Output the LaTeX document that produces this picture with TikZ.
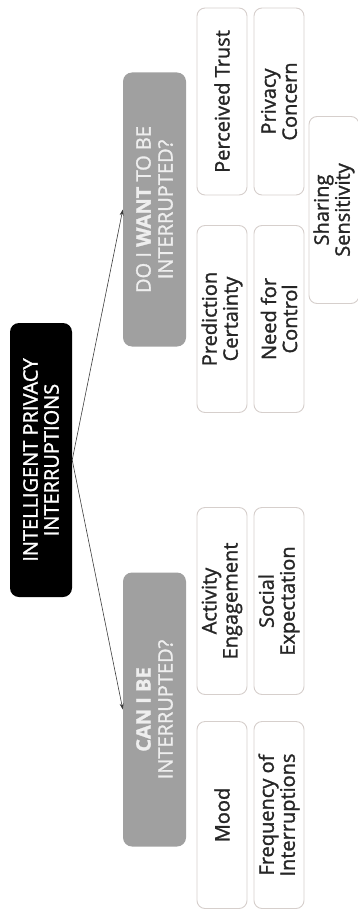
\documentclass[tikz,border=0pt]{standalone}
\usepackage{fontspec}
\setmainfont{Open Sans}[FakeBold=1.4]
\usetikzlibrary{arrows.meta}

\definecolor{qgray}{RGB}{160,160,160}
\definecolor{qtext}{RGB}{238,238,238}
\definecolor{fborder}{RGB}{214,207,204}
\definecolor{linkgray}{RGB}{60,60,60}

\begin{document}
\begin{tikzpicture}[
    x=1pt, y=-1pt,
    root/.style={rectangle, rotate=90, fill=black, text=white, rounded corners=9pt, minimum width=274pt, minimum height=62pt, align=center, font=\fontsize{20}{21}\selectfont},
    question/.style={rectangle, rotate=90, fill=qgray, text=qtext, rounded corners=9pt, minimum width=274pt, minimum height=63pt, align=center, font=\fontsize{20}{22}\selectfont},
    factor/.style={rectangle, rotate=90, draw=fborder, line width=0.9pt, fill=white, text=black!85, rounded corners=8pt, minimum width=187pt, minimum height=50pt, inner sep=2pt, align=center, font=\fontsize{20}{21}\selectfont},
    link/.style={draw=linkgray, line width=0.6pt, -{Stealth[length=6pt,width=4pt]}}
]
\useasboundingbox (0,0) rectangle (358,909);

% Root
\node[root] (root) at (41,460) {INTELLIGENT PRIVACY\\INTERRUPTIONS};

% Questions
\node[question] (want-q) at (154.5,209.5) {DO I \textbf{WANT} TO BE\\INTERRUPTED?};
\node[question] (can-q) at (154.5,709.5) {\textbf{CAN I BE}\\INTERRUPTED?};

% Factors under each question
\foreach \name/\px/\py/\txt in {
    trust/222/101.5/{Perceived Trust},
    concern/279/101.5/{Privacy\\Concern},
    certainty/222/319/{Prediction\\Certainty},
    control/279/319/{Need for\\Control},
    sensitivity/334/210/{Sharing\\Sensitivity},
    activity/222/601/{Activity\\Engagement},
    social/279/601/{Social\\Expectation},
    mood/222/815/{Mood},
    frequency/279/815/{Frequency of\\Interruptions}} {
    \node[factor] (\name) at (\px,\py) {\txt};
}

% Links from root to questions
\draw[link] (root.south) -- (want-q.north);
\draw[link] (root.south) -- (can-q.north);

\end{tikzpicture}
\end{document}
